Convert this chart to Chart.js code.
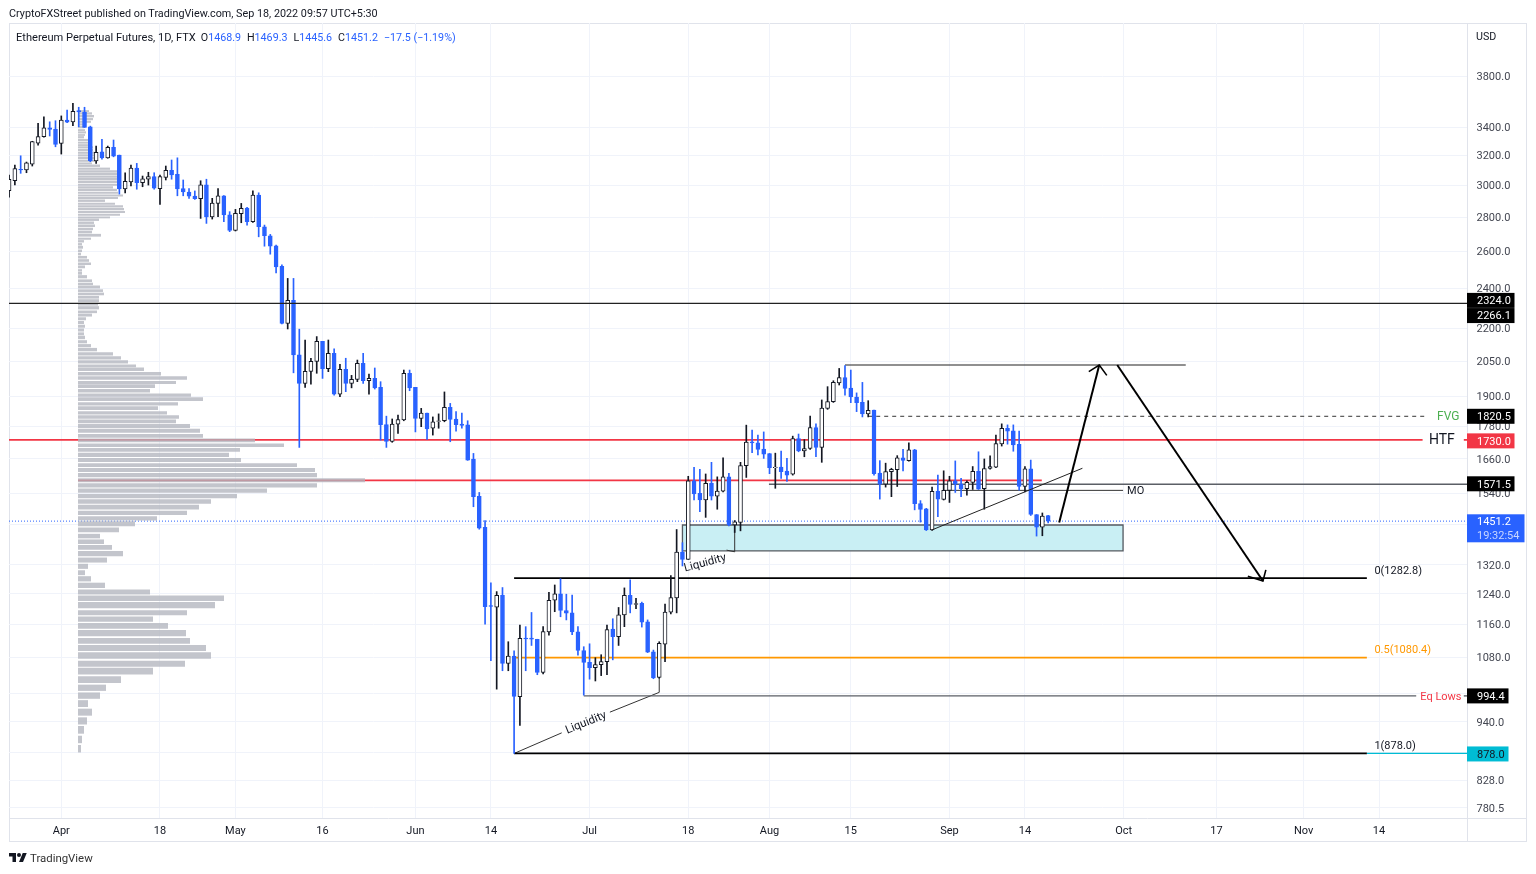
<!DOCTYPE html>
<html><head><meta charset="utf-8">
<script src="https://cdn.jsdelivr.net/npm/chart.js@4/dist/chart.umd.min.js"></script>
<style>
html,body{margin:0;padding:0;background:#fff;width:1536px;height:874px;overflow:hidden;font-family:Roboto,sans-serif;color:#131722}
canvas{position:absolute;left:0;top:0}
.t{position:absolute;white-space:nowrap}
#legend b{font-weight:400;color:#2962ff}
#legend span,#legend>b{font-size:10.7px}
</style></head><body>
<canvas id="c" width="1536" height="874"></canvas>
<div class="t" style="left:9px;top:7px;font-size:10.8px;line-height:14px">CryptoFXStreet published on TradingView.com, Sep 18, 2022 09:57 UTC+5:30</div>
<div class="t" id="legend" style="left:16px;top:31px;font-size:11.1px;line-height:14px">Ethereum Perpetual Futures, 1D, FTX<span style="margin-left:5px">O<b>1468.9</b></span><span style="margin-left:6px">H<b>1469.3</b></span><span style="margin-left:6px">L<b>1445.6</b></span><span style="margin-left:6px">C<b>1451.2</b></span><b style="margin-left:6px">−17.5 (−1.19%)</b></div>
<svg class="t" style="left:9px;top:851px" width="18" height="14" viewBox="0 0 36 28"><path fill="#131722" d="M14 22H7V11H0V4h14v18zM28 22h-8l7.5-18h8L28 22z"/><circle fill="#131722" cx="20" cy="8" r="4"/></svg>
<div class="t" style="left:30px;top:851px;font-size:11.4px;line-height:14px;color:#333">TradingView</div>
<script>
const firstDay = -9;
const opens = [2965,3030,3106,3101,3141,3287,3333,3398,3388,
3285,3455,3442,3526,3516,3405,3162,3226,3184,3257,
3203,2977,3022,3114,3018,3040,3057,2979,3052,3099,
3072,2979,2957,2931,2914,3004,2802,2885,2933,2814,
2722,2821,2856,2773,2937,2743,2690,2632,2518,2226,
2339,2079,1955,2006,2050,2141,2018,2086,1910,2015,
1955,1972,2041,1966,1976,1938,1788,1724,1790,1806,
1998,1938,1812,1833,1774,1800,1803,1856,1810,1790,
1787,1660,1531,1432,1209,1205,1236,1067,1084,993,
1127,1127,1124,1046,1142,1223,1240,1196,1190,1142,
1097,1069,1057,1064,1071,1149,1130,1185,1236,1212,
1215,1167,1094,1035,1112,1192,1229,1357,1336,1583,
1541,1519,1575,1532,1548,1597,1439,1447,1636,1723,
1719,1696,1679,1629,1631,1617,1606,1735,1689,1698,
1777,1702,1852,1879,1957,1980,1935,1898,1876,1830,
1845,1610,1572,1615,1622,1664,1654,1693,1507,1490,
1424,1549,1521,1551,1583,1572,1557,1578,1616,1557,
1626,1631,1715,1774,1764,1713,1564,1625,1472,1432,1468.9];
const highs = [3068,3135,3198,3155,3300,3430,3480,3442,3450,
3486,3531,3582,3552,3552,3410,3266,3314,3266,3309,
3203,3083,3135,3146,3061,3086,3083,3068,3128,3169,
3184,3035,2979,2964,3030,3040,2917,2979,2935,2834,
2848,2885,2860,2964,2952,2753,2698,2636,2526,2453,
2453,2198,2147,2064,2163,2141,2147,2107,2037,2064,
1989,2056,2086,1994,2021,1962,1821,1810,1825,2012,
2012,1938,1852,1833,1818,1830,1919,1872,1839,1833,
1803,1680,1544,1453,1270,1246,1257,1118,1096,1159,
1155,1191,1124,1155,1244,1264,1281,1239,1237,1155,
1106,1113,1080,1087,1159,1175,1204,1256,1278,1228,
1218,1172,1098,1118,1213,1290,1425,1385,1599,1630,
1623,1607,1648,1597,1664,1609,1453,1648,1786,1767,
1748,1760,1680,1681,1689,1662,1744,1752,1731,1821,
1791,1886,1941,1966,2019,2031,2012,1915,1959,1883,
1845,1654,1645,1627,1672,1695,1719,1695,1517,1492,
1562,1603,1618,1599,1653,1592,1583,1633,1686,1660,
1671,1748,1791,1787,1787,1763,1633,1656,1472,1477,1469.3];
const lows = [2925,3002,3079,3083,3128,3273,3330,3338,3261,
3210,3435,3413,3405,3400,3157,3146,3174,3181,3191,
2944,2952,2996,2975,2991,3002,2975,2879,3035,3040,
2933,2933,2917,2910,2793,2763,2789,2804,2773,2714,
2718,2767,2753,2769,2684,2630,2585,2483,2223,2199,
2000,1702,1938,1952,1998,1976,2005,1906,1899,1920,
1936,1962,1955,1910,1931,1729,1702,1721,1754,1803,
1924,1760,1780,1732,1748,1774,1799,1723,1763,1774,
1655,1497,1426,1161,1073,1009,1050,1050,878,933,
1050,1109,1041,1043,1134,1193,1180,1172,1135,1086,
996,1031,1027,1039,1041,1075,1109,1155,1190,1201,
1154,1092,1032,1033,1071,1187,1190,1317,1336,1519,
1481,1463,1519,1489,1546,1436,1416,1421,1595,1683,
1675,1662,1608,1558,1592,1581,1603,1686,1668,1695,
1668,1648,1848,1876,1948,1906,1875,1839,1818,1818,
1603,1522,1562,1530,1564,1618,1652,1487,1448,1422,
1422,1465,1519,1511,1544,1530,1535,1554,1554,1489,
1624,1629,1707,1714,1688,1552,1546,1469,1405,1406,1445.6];
const closes = [3040,3110,3101,3150,3297,3333,3398,3386,3278,
3455,3440,3521,3516,3401,3164,3222,3184,3257,3196,
2977,3026,3114,3018,3042,3057,2982,3057,3099,3068,
2977,2957,2931,2914,3004,2802,2887,2933,2814,2722,
2824,2854,2773,2937,2743,2690,2630,2515,2226,2339,
2079,1955,2006,2050,2141,2018,2086,1910,2015,1955,
1972,2041,1966,1976,1936,1788,1724,1790,1808,1998,
1936,1812,1833,1771,1799,1803,1856,1808,1788,1785,
1656,1530,1429,1206,1207,1236,1067,1084,993,1126,
1125,1124,1046,1143,1223,1240,1196,1189,1142,1097,
1069,1057,1064,1071,1148,1130,1185,1236,1212,1214,
1166,1093,1034,1114,1192,1230,1357,1336,1583,1539,
1519,1575,1532,1549,1597,1439,1449,1636,1722,1719,
1695,1677,1629,1631,1615,1603,1735,1689,1698,1777,
1702,1853,1879,1959,1980,1934,1898,1875,1830,1844,
1608,1572,1615,1623,1664,1655,1693,1507,1488,1424,
1548,1522,1551,1583,1572,1557,1578,1616,1555,1626,
1633,1716,1774,1763,1711,1564,1625,1472,1432,1467,1451.2];

const vpPrices = [3523,3505,3484,3462,3442,3423,3403,3381,3364,3345,3329,3309,3290,3273,3257,3238,3219,3201,3183,3164,3146,3130,3110,3092,3075,3057,3040,3022,3004,2987,2970,2952,2935,2919,2902,2883,2867,2850,2832,2815,2799,2785,2767,2749,2730,2712,2693,2673,2658,2641,2624,2604,2586,2568,2550,2532,2515,2496,2480,2462,2441,2424,2408,2389,2372,2355,2338,2320,2302,2282,2266,2248,2230,2212,2194,2176,2159,2139,2121,2103,2084,2066,2048,2030,2015,1996,1978,1959,1943,1924,1906,1889,1870,1853,1834,1818,1801,1783,1764,1745,1728,1710,1693,1675,1656,1638,1621,1603,1585,1568,1550,1532,1514,1496,1477,1460,1443,1424,1405,1388,1371,1353,1334,1316,1298,1281,1263,1245,1228,1210,1190,1174,1157,1139,1120,1103,1085,1066,1049,1030,1012,995,978,960,942,924,905,887];
const vpVolumes = [11,14,16,15,13,5,6,7,8,7,6,11,10,14,15,15,17,18,19,17,14,22,32,40,42,42,39,40,39,35,39,40,45,40,27,37,45,46,47,42,32,21,16,17,15,14,23,13,6,4,5,4,3,9,11,13,7,4,4,9,14,15,22,25,26,21,21,20,21,19,14,8,6,7,6,6,7,9,13,19,35,43,50,58,66,83,109,98,77,72,113,125,100,80,89,101,98,112,122,125,177,206,162,151,163,219,237,239,287,239,189,159,133,121,109,79,57,41,22,26,34,45,29,10,7,13,27,72,146,137,109,75,90,108,112,128,133,107,75,43,28,22,10,14,9,6,4,3];

const xTickDays = [0,17,30,45,61,74,91,108,122,136,153,166,183,199,214,227];
const xTickLabels = ['Apr','18','May','16','Jun','14','Jul','18','Aug','15','Sep','14','Oct','17','Nov','14'];
const yTickValues = [3800,3400,3200,3000,2800,2600,2400,2200,2050,1900,1780,1660,1540,1440,1320,1240,1160,1080,1000,940,880,828,780.5];
const yTickHidden = [1440,1000,880];

const xMin=-9.01, xMax=242.15, yMin=763.6, yMax=4262;
const blue='#2962ff', black='#131722', red='#f23645';
const days = opens.map((_,i)=>firstDay+i);
const isUp = i => closes[i]>=opens[i];

function seg(pts,color,width,order,extra){
  return Object.assign({type:'line',data:pts.map(p=>({x:p[0],y:p[1]})),borderColor:color,borderWidth:width,pointRadius:0,tension:0,fill:false,order:order,borderCapStyle:'butt'},extra||{});
}
const boxLeft=107, boxRight=182.9, boxTop=1439, boxBottom=1361;

const vpData=[];
vpPrices.forEach((p,i)=>{vpData.push({x:0,y:p},{x:vpVolumes[i],y:p},{x:vpVolumes[i],y:NaN});});

const datasets=[
  seg([[boxLeft,boxBottom],[boxLeft,boxTop],[boxRight,boxTop],[boxRight,boxBottom]],'rgba(0,0,0,0)',0,60,{fill:'shape',backgroundColor:'#c9eff4'}),
  seg([[boxLeft,boxBottom],[boxLeft,boxTop],[boxRight,boxTop],[boxRight,boxBottom],[boxLeft,boxBottom]],'#555a60',1.3,59,{borderJoinStyle:'miter',borderCapStyle:'square'}),
  seg([[xMin,1730],[234.5,1730]],red,1.8,55),
  seg([[241.6,1730],[xMax,1730]],red,1.8,55),
  seg([[2.88,1585],[168.9,1585]],red,1.8,55),
  seg([[xMin,1451.2],[xMax,1451.2]],blue,1,55,{borderDash:[1,2]}),
  {type:'line',xAxisID:'x2',data:vpData,borderColor:'rgba(178,181,190,0.78)',borderWidth:3,pointRadius:0,tension:0,fill:false,spanGaps:false,order:50,borderCapStyle:'butt',
   segment:{borderWidth:c=>{const n=vpPrices.length;const r=Math.min(Math.floor(c.p0DataIndex/3),n-2);const s=c.chart.scales.y;return Math.max(1,Math.abs(s.getPixelForValue(vpPrices[r])-s.getPixelForValue(vpPrices[r+1]))*0.8);}}},
  seg([[121.9,1571.5],[xMax,1571.5]],'#5b5f66',1.4,40),
  seg([[152,1551],[182.9,1551]],'#333',1,40),
  seg([[135,2034],[193.7,2034]],'#222',1.2,40),
  seg([[139,1820.5],[235.4,1820.5]],'#333',1,40,{borderDash:[4,4]}),
  seg([[78,1282.8],[224.9,1282.8]],'#000',1.8,40),
  seg([[78,1080.4],[224.9,1080.4]],'#ff9800',1.7,40),
  seg([[78,878],[224.9,878]],'#000',1.8,40),
  seg([[224.9,878],[xMax,878]],'#00bcd4',1.2,40),
  seg([[90,994.4],[233.4,994.4]],'#5b5f66',1.4,40),
  seg([[241.6,994.4],[xMax,994.4]],'#5b5f66',1.4,40),
  seg([[78,878],[86.2,918]],'#333',1,40),
  seg([[94.5,960],[103,1002]],'#333',1,40),
  seg([[103,1002],[103,1033]],'#333',1,40),
  seg([[116,1358],[116,1443]],'#333',1,40),
  seg([[114.6,1363],[116,1358]],'#333',1,40),
  {type:'bar',grouped:false,order:20,maxBarThickness:1,barPercentage:1,categoryPercentage:1,
   data:days.map((d,i)=>({x:d,y:[lows[i],highs[i]]})),
   backgroundColor:days.map((_,i)=>isUp(i)?'#131722':'#2962ff'),borderWidth:0},
  {type:'bar',grouped:false,order:10,maxBarThickness:4,barPercentage:1,categoryPercentage:1,
   data:days.map((d,i)=>({x:d,y:[opens[i],closes[i]]})),
   backgroundColor:days.map((_,i)=>isUp(i)?'#ffffff':'#2962ff'),
   borderColor:days.map((_,i)=>isUp(i)?'#131722':'#2962ff'),borderWidth:1,borderSkipped:false},
  seg([[xMin,2324],[xMax,2324]],'#222',1.2,5),
  seg([[150,1424],[175.9,1627]],'#222',1,5),
  seg([[171.9,1447],[178.8,2034]],'#000',2,4),
  seg([[177,2005],[178.8,2034],[180.1,1989]],'#000',1.6,4),
  seg([[181.9,2034],[207,1275]],'#000',2,4),
  seg([[204.4,1288],[207,1275],[207.5,1306]],'#000',1.6,4)
];

const priceTags=[
 {price:2324,dy:-3,h:15,w:47.5,bg:'#000',fg:'#fff',text:'2324.0'},
 {price:2266.1,dy:0.5,h:15,w:47.5,bg:'#000',fg:'#fff',text:'2266.1'},
 {price:1820.5,dy:0,h:15,w:47.5,bg:'#000',fg:'#fff',text:'1820.5'},
 {price:1730,dy:1,h:15,w:47.5,bg:red,fg:'#fff',text:'1730.0'},
 {price:1571.5,dy:-0.5,h:15,w:47.5,bg:'#000',fg:'#fff',text:'1571.5'},
 {price:994.4,dy:0,h:15,w:41.5,bg:'#000',fg:'#fff',text:'994.4'},
 {price:878,dy:0.5,h:15,w:41.5,bg:'#00bcd4',fg:'#131722',text:'878.0'}
];
const noteLabels=[
 {day:237,price:1820.5,text:'FVG',color:'#4caf50',size:12},
 {day:235.6,price:1730,text:'HTF',color:'#131722',size:14},
 {day:183.6,price:1551,text:'MO',color:'#131722',size:11},
 {day:226.2,price:1306,text:'0(1282.8)',color:'#131722',size:11},
 {day:226.2,price:1100,text:'0.5(1080.4)',color:'#ff9800',size:11},
 {day:234.1,price:994.4,text:'Eq Lows',color:red,size:11},
 {day:226.2,price:894,text:'1(878.0)',color:'#131722',size:11}
];
const slantLabels=[
 {day:90.4,price:938,text:'Liquidity',angle:-22},
 {day:110.9,price:1325,text:'Liquidity',angle:-15}
];

const frame={id:'frame',
 beforeDraw(ch){const c=ch.ctx;c.save();c.strokeStyle='#e0e3eb';c.lineWidth=1;c.strokeRect(9.5,23.5,1517,818);
  c.beginPath();c.moveTo(1467.5,23);c.lineTo(1467.5,842);c.moveTo(9,818.5);c.lineTo(1527,818.5);c.stroke();c.restore();},
 afterDraw(ch){const c=ch.ctx,y=ch.scales.y,x=ch.scales.x;c.save();c.textBaseline='middle';
  const F='Roboto,sans-serif';
  c.font='10.7px '+F;c.fillStyle='#131722';c.textAlign='left';c.fillText('USD',1476,37);
  noteLabels.forEach(n=>{c.font=n.size+'px '+F;c.fillStyle=n.color;c.textAlign='left';c.fillText(n.text,x.getPixelForValue(n.day),y.getPixelForValue(n.price)+1);});
  slantLabels.forEach(n=>{c.save();c.translate(x.getPixelForValue(n.day),y.getPixelForValue(n.price));c.rotate(n.angle*Math.PI/180);c.font='11.5px '+F;c.fillStyle='#131722';c.textAlign='center';c.fillText(n.text,0,0);c.restore();});
  priceTags.forEach(t=>{const py=y.getPixelForValue(t.price)+t.dy;c.fillStyle=t.bg;c.fillRect(1467,py-t.h/2,t.w,t.h);c.fillStyle=t.fg;c.font='11px '+F;c.textAlign='left';c.fillText(t.text,1477,py+1);});
  c.fillStyle=blue;c.fillRect(1467,514.3,57.5,28);c.fillStyle='#fff';c.font='11px '+F;c.fillText('1451.2',1477,522.5);c.fillStyle='#c8d6ff';c.fillText('19:32:54',1477,536);
  c.restore();}
};

new Chart(document.getElementById('c'),{
 type:'bar',
 data:{datasets},
 plugins:[frame],
 options:{
  responsive:false,animation:false,devicePixelRatio:1,
  layout:{padding:{left:9,top:23,right:9,bottom:32}},
  plugins:{legend:{display:false},tooltip:{enabled:false}},
  scales:{
   x:{type:'linear',min:xMin,max:xMax,offset:false,
      afterFit:s=>{s.height=24;},
      afterBuildTicks:s=>{s.ticks=xTickDays.map(v=>({value:v}));},
      grid:{offset:false,color:'#f0f3fa',drawTicks:false,tickLength:0},border:{display:false},
      ticks:{autoSkip:false,maxRotation:0,padding:7,color:'#131722',font:{family:'Roboto',size:11},
             callback:v=>xTickLabels[xTickDays.indexOf(v)]||''}},
   x2:{type:'linear',display:false,offset:false,grid:{offset:false},min:-69,max:1389},
   y:{type:'logarithmic',position:'right',min:yMin,max:yMax,
      afterFit:s=>{s.width=60;},
      afterBuildTicks:s=>{s.ticks=yTickValues.map(v=>({value:v}));},
      grid:{color:'#f0f3fa',drawTicks:false,tickLength:0},border:{display:false},
      ticks:{autoSkip:false,padding:9.5,labelOffset:1,color:'#434651',font:{family:'Roboto',size:11},
             callback:v=>yTickHidden.includes(v)?'':v.toFixed(1)}}
  }
 }
});
</script>
</body></html>
